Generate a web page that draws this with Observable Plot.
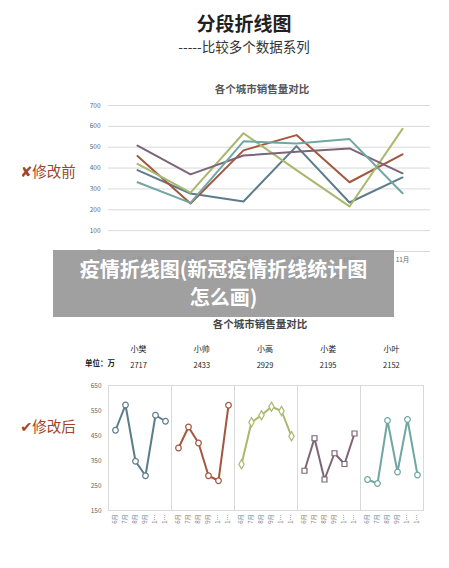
<!DOCTYPE html>
<html>
<head>
<meta charset="utf-8">
<script src="https://cdn.jsdelivr.net/npm/d3@7"></script>
<script src="https://cdn.jsdelivr.net/npm/@observablehq/plot@0.6"></script>
<style>
  html, body { margin: 0; padding: 0; background: #fff; }
  #wrap { position: relative; width: 449px; height: 568px; overflow: hidden; font-family: "Noto Sans CJK SC", "Noto Sans", sans-serif; }
  .abs { position: absolute; white-space: nowrap; }
  .ctr { transform: translate(-50%, -50%); }
  svg { position: absolute; }
</style>
</head>
<body>
<div id="wrap"></div>
<script>
// ---------- data ----------
const mainTitle = "分段折线图";
const subTitle = "-----比较多个数据系列";
const chartTitle = "各个城市销售量对比";
const beforeLabel = "修改前";
const afterLabel = "修改后";
const bannerLine1 = "疫情折线图(新冠疫情折线统计图";
const bannerLine2 = "怎么画)";
const unitLabel = "单位：万";

const months = ["6月", "7月", "8月", "9月", "10月", "11月"];
const people = ["小樊", "小帅", "小高", "小娄", "小叶"];
const colors = ["#5b7c8d", "#a3573f", "#a9b86c", "#7d6476", "#70a6a4"];
const symbols = ["circle", "circle", "diamond", "square", "circle"];
const totals = [2717, 2433, 2929, 2195, 2152];

// before (top chart)
const beforeFan   = [390, 278, 240, 505, 235, 355];
const beforeShuai = [458, 230, 485, 558, 332, 466];
const beforeGao   = [420, 282, 567, 390, 216, 588];
const beforeLou   = [508, 370, 460, 478, 494, 375];
const beforeYe    = [332, 233, 528, 518, 539, 279];

// after (bottom chart)
const afterFan   = [471, 572, 347, 289, 531, 507];
const afterShuai = [400, 484, 420, 289, 269, 571];
const afterGao   = [335, 503, 531, 565, 548, 447];
const afterLou   = [309, 439, 274, 379, 336, 458];
const afterYe    = [274, 258, 510, 304, 514, 292];

const yTicksTop = [0, 100, 200, 300, 400, 500, 600, 700];
const yTicksBottom = [150, 250, 350, 450, 550, 650];

// ---------- build rows ----------
const beforeSeries = [beforeFan, beforeShuai, beforeGao, beforeLou, beforeYe];
const afterSeries = [afterFan, afterShuai, afterGao, afterLou, afterYe];
const toRows = (series) => people.flatMap((p, i) => months.map((m, j) => ({name: p, month: m, value: series[i][j]})));
const beforeRows = toRows(beforeSeries);
const afterRows = toRows(afterSeries);

const wrap = document.getElementById("wrap");
const FONT = '"Noto Sans CJK SC", "Noto Sans", sans-serif';

function addText(text, x, y, style) {
  const d = document.createElement("div");
  d.className = "abs ctr";
  d.textContent = text;
  d.style.left = x + "px";
  d.style.top = y + "px";
  Object.assign(d.style, style || {});
  wrap.appendChild(d);
  return d;
}

// ---------- headings ----------
addText(mainTitle, 244, 22, {fontSize: "19px", fontWeight: "bold", color: "#231f20"});
addText(subTitle, 244, 46, {fontSize: "13.5px", color: "#333"});
addText(chartTitle, 262, 88, {fontSize: "10.5px", fontWeight: "bold", color: "#555"});

const xMark = addText("", 48, 170, {fontSize: "14.5px", color: "#a0442a"});
xMark.innerHTML = '<span style="font-family:DejaVu Sans;font-weight:bold">✘</span>' + beforeLabel;
const vMark = addText("", 48, 425, {fontSize: "14.5px", color: "#a0442a"});
vMark.innerHTML = '<span style="font-family:DejaVu Sans;font-weight:bold">✔</span>' + afterLabel;

// ---------- top chart ----------
const topChart = Plot.plot({
  width: 449, height: 175,
  marginTop: 10, marginBottom: 19, marginLeft: 108, marginRight: 19,
  style: {fontFamily: FONT, background: "transparent"},
  x: {type: "point", domain: months, padding: 0.5, label: null},
  y: {domain: [0, 700], label: null},
  color: {domain: people, range: colors},
  marks: [
    Plot.gridY(yTicksTop, {stroke: "#d9d9d9", strokeOpacity: 1}),
    Plot.axisY(yTicksTop, {tickSize: 0, tickPadding: 8, fontSize: 6.5, fill: "#666", label: null}),
    Plot.axisX({tickSize: 0, tickPadding: 6, fontSize: 6.5, fill: "#666", label: null}),
    Plot.line(beforeRows, {x: "month", y: "value", z: "name", stroke: "name", strokeWidth: 2})
  ]
});
topChart.style.left = "0px";
topChart.style.top = "95px";
wrap.appendChild(topChart);

// top chart legend (under the banner)
const legend = document.createElement("div");
legend.className = "abs";
legend.style.left = "168px";
legend.style.top = "271px";
legend.style.display = "flex";
legend.style.fontSize = "7px";
legend.style.color = "#666";
people.forEach((p, i) => {
  const item = document.createElement("div");
  item.style.display = "flex";
  item.style.alignItems = "center";
  item.style.width = "40px";
  const sw = document.createElement("span");
  sw.style.display = "inline-block";
  sw.style.width = "15px";
  sw.style.height = "2px";
  sw.style.background = colors[i];
  sw.style.marginRight = "3px";
  item.appendChild(sw);
  item.appendChild(document.createTextNode(p));
  legend.appendChild(item);
});
wrap.appendChild(legend);

// ---------- bottom chart ----------
addText(chartTitle, 260, 323, {fontSize: "10.5px", fontWeight: "bold", color: "#444"});

const bLeft = 107, bRight = 26, bWidth = 449;
const facetW = (bWidth - bLeft - bRight) / people.length;
people.forEach((p, i) => {
  const cx = bLeft + facetW * (i + 0.5);
  addText(p, cx, 348, {fontSize: "8px", color: "#222"});
  addText(String(totals[i]), cx, 364, {fontSize: "7.5px", color: "#222"});
});
addText(unitLabel, 100, 362, {fontSize: "7.5px", color: "#222", fontWeight: "bold"});

const bottomChart = Plot.plot({
  width: bWidth, height: 160,
  marginTop: 10, marginBottom: 25, marginLeft: bLeft, marginRight: bRight,
  style: {fontFamily: FONT, background: "transparent"},
  fx: {domain: people, padding: 0, axis: null, label: null},
  x: {type: "point", domain: months, padding: 0.5, label: null},
  y: {domain: [150, 650], label: null},
  color: {domain: people, range: colors},
  symbol: {domain: people, range: symbols},
  marks: [
    Plot.frame({stroke: "#d9d9d9"}),
    Plot.axisY(yTicksBottom, {tickSize: 0, tickPadding: 7, fontSize: 6.5, fill: "#666", label: null}),
    Plot.axisX({tickRotate: -90, tickSize: 0, tickPadding: 4, fontSize: 6, fill: "#777", label: null,
      tickFormat: (d) => d.length > 2 ? d[0] + "…" : d}),
    Plot.line(afterRows, {fx: "name", x: "month", y: "value", z: "name", stroke: "name", strokeWidth: 2}),
    Plot.dot(afterRows, {fx: "name", x: "month", y: "value", stroke: "name", symbol: "name", fill: "white", r: 2.8, strokeWidth: 1.2})
  ]
});
bottomChart.style.left = "0px";
bottomChart.style.top = "375px";
wrap.appendChild(bottomChart);

// ---------- overlay banner ----------
const banner = document.createElement("div");
banner.className = "abs";
Object.assign(banner.style, {
  left: "53px", top: "250px", width: "341px", height: "67px",
  background: "rgba(150,150,150,0.9)", color: "#fff", fontWeight: "bold",
  fontSize: "20px", lineHeight: "28px", textAlign: "center", whiteSpace: "normal",
  paddingTop: "5px", boxSizing: "border-box", zIndex: 10
});
banner.innerHTML = bannerLine1 + "<br>" + bannerLine2;
wrap.appendChild(banner);
</script>
</body>
</html>
